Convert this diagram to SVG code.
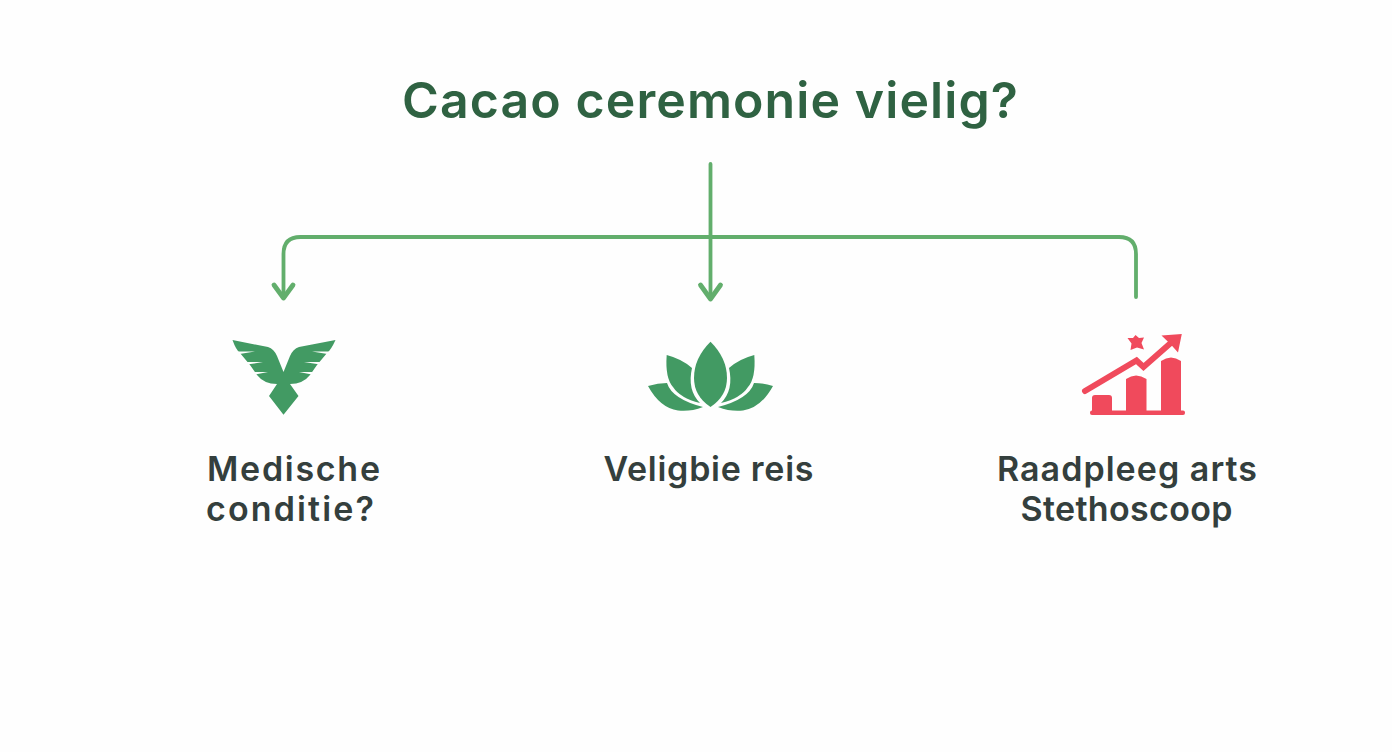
<svg xmlns="http://www.w3.org/2000/svg" width="1392" height="752" viewBox="0 0 1392 752">
<style>
.title{font-family:"Inter","Liberation Sans",sans-serif;font-weight:600;font-size:50px;fill:#2f6242}
.label{font-family:"Inter","Liberation Sans",sans-serif;font-weight:600;font-size:34px;fill:#343f3d}
.conn{fill:none;stroke:#62ae6c;stroke-width:3.8;stroke-linecap:round;stroke-linejoin:round}
.head{fill:none;stroke:#62ae6c;stroke-width:4.8;stroke-linecap:round;stroke-linejoin:round}
.green{fill:#429a63}
.red{fill:#f04a5c}
.gap{fill:#fefefe}
</style>
<rect width="1392" height="752" fill="#fefefe"/>
<g id="title"><text class="title" x="710" y="118" text-anchor="middle" textLength="616" lengthAdjust="spacing">Cacao ceremonie vielig?</text></g>
<g id="connectors">
<path class="conn" d="M710.5 164V297"/>
<path class="conn" d="M283.5 297V254Q283.5 237 300.5 237H1119Q1136 237 1136 254V297"/>
<path class="head" d="M274 285L283.500 298L293 285"/>
<path class="head" d="M700.500 285L710.500 299L720.500 285"/>
</g>
<g id="node-medisch">
<path class="green" d="M232.500 340L268 347Q274 349 277 356L283.500 372L290 356Q293 349 299 347L335.500 340Q331 350 327 353L317 365L310 375Q303 384 290 384L298.500 396L283.500 414.700L269 396L277 384Q264 384 257 375L250 365L240 353Q236 350 232.500 340Z"/>
<path class="gap" d="M238 351.500H255L238 354.200ZM247 362H263L247 364.600ZM254 372H268L254 374.800ZM329 351.500H312L329 354.200ZM320 362H304L320 364.600ZM313 372H299L313 374.800Z"/>
<text class="label" x="293.500" y="480.500" text-anchor="middle" textLength="173" lengthAdjust="spacing">Medische</text>
<text class="label" x="290" y="520.500" text-anchor="middle" textLength="168" lengthAdjust="spacing">conditie?</text>
</g>
<g id="node-veilig">
<path class="green" d="M710.500 341.700Q727 358 727 378Q727 396 710.500 407Q694 396 694 378Q694 358 710.500 341.700Z"/>
<path class="green" d="M666.700 355Q682 359 692 368Q687 390 700 403Q680 398 673 387Q665 378 666.700 355Z"/>
<path class="green" d="M754.300 355Q739 359 729 368Q734 390 721 403Q741 398 748 387Q756 378 754.300 355Z"/>
<path class="green" d="M648 386Q658 383 667 383Q672 399 703 407Q690 412 678 410.500Q660 408 648 386Z"/>
<path class="green" d="M773 386Q763 383 754 383Q749 399 718 407Q731 412 743 410.500Q761 408 773 386Z"/>
<text class="label" x="708.500" y="480.500" text-anchor="middle" textLength="210" lengthAdjust="spacing">Veligbie reis</text>
</g>
<g id="node-arts">
<path class="red" d="M1092 411V398Q1092 395 1095 395H1109Q1112 395 1112 398V411ZM1126 411V379Q1136 372 1146.500 379V411ZM1161 411V361Q1171 354 1181 361V411Z"/>
<rect class="red" x="1090" y="410.500" width="95" height="4.500" rx="2"/>
<path d="M1085 391L1136.500 360.500L1143.500 367L1173 341" fill="none" stroke="#f04a5c" stroke-width="6" stroke-linecap="round" stroke-linejoin="miter"/>
<path class="red" d="M1161.500 335.500L1181.800 334L1178 352.500Q1171 344 1161.500 335.500Z"/>
<path class="red" d="M1135.500 335L1139 338L1144 337.500L1141.500 343L1144 349.500L1137 347.500L1130.500 350L1131.500 343.500L1127.500 338L1133 338Z"/>
<text class="label" x="1127" y="480.500" text-anchor="middle" textLength="260" lengthAdjust="spacing">Raadpleeg arts</text>
<text class="label" x="1126.500" y="520.500" text-anchor="middle" textLength="212" lengthAdjust="spacing">Stethoscoop</text>
</g>
</svg>
